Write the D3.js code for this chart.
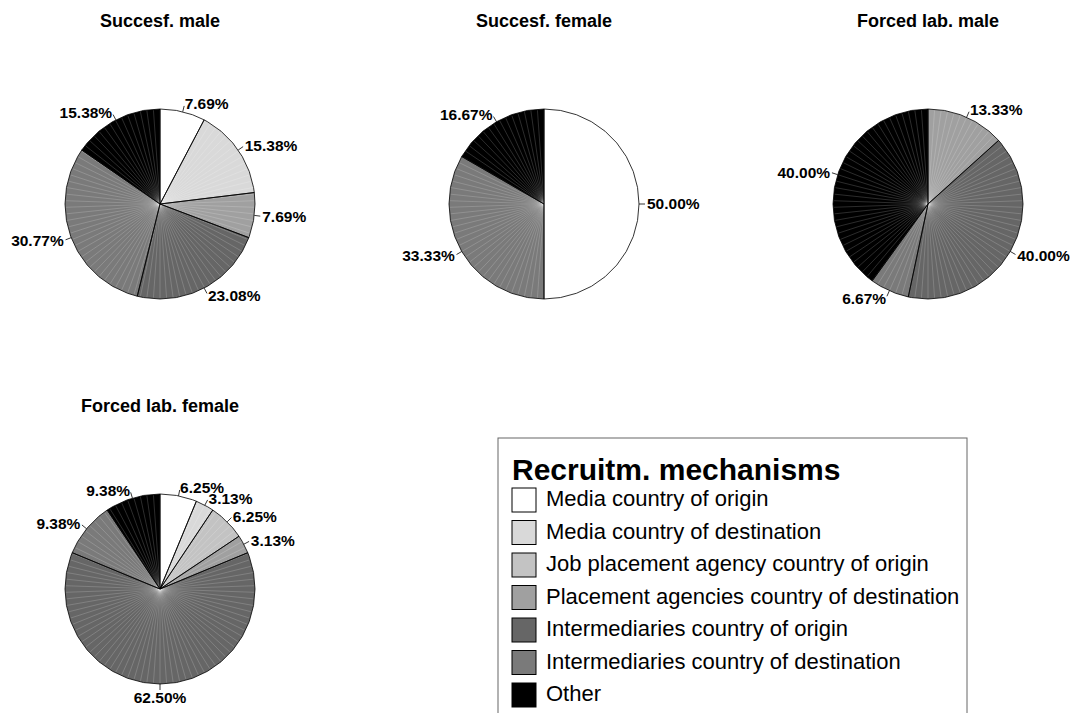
<!DOCTYPE html>
<html>
<head>
<meta charset="utf-8">
<script src="https://cdn.jsdelivr.net/npm/d3@7"></script>
<style>
  body { margin: 0; background: #fff; }
  text { font-family: "Liberation Sans", Arial, sans-serif; }
</style>
</head>
<body>
<div id="chart"></div>
<script>

// Recruitment mechanisms, one pie per group

const categories = [
  "Media country of origin",
  "Media country of destination",
  "Job placement agency country of origin",
  "Placement agencies country of destination",
  "Intermediaries country of origin",
  "Intermediaries country of destination",
  "Other"
];

const colors = ["#ffffff", "#d9d9d9", "#c3c3c3", "#a0a0a0", "#666666", "#7a7a7a", "#000000"];

const panelTitles = ["Succesf. male", "Succesf. female", "Forced lab. male", "Forced lab. female"];

// percent per category (same order as categories)
const succesfMale   = [7.69, 15.38, 0, 7.69, 23.08, 30.77, 15.38];
const succesfFemale = [50.00, 0, 0, 0, 0, 33.33, 16.67];
const forcedMale    = [0, 0, 0, 13.33, 40.00, 6.67, 40.00];
const forcedFemale  = [6.25, 3.13, 6.25, 3.13, 62.50, 9.38, 9.38];

const legendTitle = "Recruitm. mechanisms";

const width = 1074, height = 713;
const radius = 95;

const svg = d3.select("#chart")
    .append("svg")
    .attr("width", width)
    .attr("height", height);

svg.append("rect").attr("width", width).attr("height", height).attr("fill", "#fff");

// where each pie sits
const panels = [
  { title: panelTitles[0], values: succesfMale,   cx: 160, cy: 204 },
  { title: panelTitles[1], values: succesfFemale, cx: 544, cy: 204 },
  { title: panelTitles[2], values: forcedMale,    cx: 928, cy: 204 },
  { title: panelTitles[3], values: forcedFemale,  cx: 160, cy: 589 }
];

const pie = d3.pie().sort(null).value(d => d.v);

// angle step for the faceted outline (10 degree steps like the old plot)
const step = Math.PI / 18;

// builds a polygon wedge instead of a true arc
function wedge(d) {
  const p = d3.path();
  p.moveTo(0, 0);
  const pts = [d.startAngle];
  let a = Math.ceil(d.startAngle / step + 1e-9) * step;
  while (a < d.endAngle - 1e-9) { pts.push(a); a += step; }
  pts.push(d.endAngle);
  pts.forEach(t => p.lineTo(radius * Math.sin(t), -radius * Math.cos(t)));
  p.closePath();
  return p.toString();
}

panels.forEach(panel => {
  const g = svg.append("g").attr("transform", `translate(${panel.cx},${panel.cy})`);

  // title above the pie
  svg.append("text")
      .attr("x", panel.cx)
      .attr("y", panel.cy - 177)
      .attr("text-anchor", "middle")
      .attr("font-size", "18px")
      .attr("font-weight", "bold")
      .text(panel.title);

  const data = panel.values.map((v, i) => ({ v: v, i: i }));
  const arcs = pie(data).filter(d => d.data.v > 0);

  // slices
  g.selectAll("path.slice")
      .data(arcs)
      .enter()
      .append("path")
        .attr("class", "slice")
        .attr("d", wedge)
        .attr("fill", d => colors[d.data.i]);

  // the light radial hatching inside the slices
  const rays = d3.range(0, 360, 4).map(deg => deg * Math.PI / 180);
  g.selectAll("line.ray")
      .data(rays)
      .enter()
      .append("line")
        .attr("class", "ray")
        .attr("x1", 0).attr("y1", 0)
        .attr("x2", t => (radius - 1) * Math.sin(t))
        .attr("y2", t => -(radius - 1) * Math.cos(t))
        .attr("stroke", "#fff")
        .attr("stroke-opacity", 0.25)
        .attr("stroke-width", 0.7);

  // slice borders on top
  g.selectAll("path.edge")
      .data(arcs)
      .enter()
      .append("path")
        .attr("class", "edge")
        .attr("d", wedge)
        .attr("fill", "none")
        .attr("stroke", "#000")
        .attr("stroke-width", 0.8)
        .attr("stroke-linejoin", "round");

  // labels with short leader lines
  arcs.forEach(d => {
    const mid = (d.startAngle + d.endAngle) / 2;
    const sx = Math.sin(mid), sy = -Math.cos(mid);
    g.append("line")
        .attr("x1", radius * sx).attr("y1", radius * sy)
        .attr("x2", (radius + 6) * sx).attr("y2", (radius + 6) * sy)
        .attr("stroke", "#000")
        .attr("stroke-width", 0.8);

    let anchor = sx > 0 ? "start" : "end";
    let lx = (radius + 8) * sx, ly = (radius + 8) * sy;
    if (Math.abs(sx) < 0.15) { anchor = "middle"; ly += sy > 0 ? 6 : -6; }
    g.append("text")
        .attr("x", lx)
        .attr("y", ly)
        .attr("dy", "0.35em")
        .attr("text-anchor", anchor)
        .attr("font-size", "15.5px")
        .attr("font-weight", "bold")
        .text(d.data.v.toFixed(2) + "%");
  });
});

// Legend box (runs off the bottom of the picture)
const legend = svg.append("g").attr("transform", "translate(498,438)");

legend.append("rect")
    .attr("x", 0).attr("y", 0)
    .attr("width", 469).attr("height", 300)
    .attr("fill", "#fff")
    .attr("stroke", "#666")
    .attr("stroke-width", 1);

legend.append("text")
    .attr("x", 14)
    .attr("y", 42)
    .attr("font-size", "30px")
    .attr("font-weight", "bold")
    .text(legendTitle);

const rowScale = d3.scaleLinear().domain([0, 1]).range([50, 82.5]);

const items = legend.selectAll("g.item")
    .data(categories)
    .enter()
    .append("g")
      .attr("class", "item")
      .attr("transform", (d, i) => `translate(14,${rowScale(i)})`);

items.append("rect")
    .attr("width", 24).attr("height", 24)
    .attr("fill", (d, i) => colors[i])
    .attr("stroke", "#000")
    .attr("stroke-width", 1);

items.append("text")
    .attr("x", 34)
    .attr("y", 18)
    .attr("font-size", "22px")
    .text(d => d);

</script>
</body>
</html>
